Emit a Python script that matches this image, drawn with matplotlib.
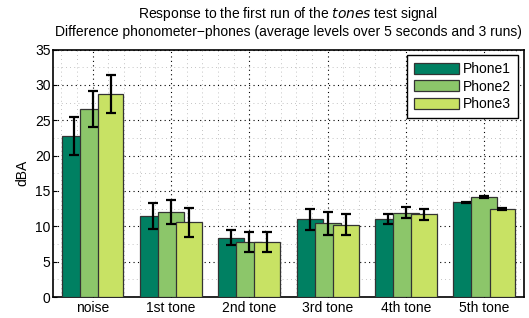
import matplotlib
matplotlib.use("Agg")
import matplotlib.pyplot as plt
import numpy as np
from matplotlib.ticker import MultipleLocator

plt.rcParams['font.family'] = ['Liberation Sans', 'DejaVu Sans']

categories = ["noise", "1st tone", "2nd tone", "3rd tone", "4th tone", "5th tone"]
series_names = ["Phone1", "Phone2", "Phone3"]
phone1 = [22.8, 11.45, 8.4, 11.0, 11.0, 13.4]
phone2 = [26.6, 12.0, 7.75, 10.4, 11.95, 14.1]
phone3 = [28.75, 10.6, 7.75, 10.25, 11.7, 12.5]
err1 = [2.7, 1.8, 1.1, 1.45, 0.7, 0.1]
err2 = [2.6, 1.7, 1.45, 1.6, 0.8, 0.12]
err3 = [2.7, 2.05, 1.45, 1.5, 0.8, 0.12]
colors = ["#008062", "#8CC66A", "#C8E264"]

FS = 10

fig = plt.figure(figsize=(5.29, 3.18), dpi=100)
ax = fig.add_axes([0.1008, 0.066, 0.889, 0.778])

x = np.arange(1, len(categories) + 1)
offset = 0.23
width = 0.33
vals = [phone1, phone2, phone3]
errs = [err1, err2, err3]
for i, (v, e, c, n) in enumerate(zip(vals, errs, colors, series_names)):
    pos = x + (i - 1) * offset
    ax.bar(pos, v, width=width, color=c, edgecolor="#333333", linewidth=0.9,
           label=n, zorder=3 + i)
for i, (v, e) in enumerate(zip(vals, errs)):
    pos = x + (i - 1) * offset
    ax.errorbar(pos, v, yerr=e, fmt="none", ecolor="black", elinewidth=1.6,
                capsize=3.5, capthick=1.6, zorder=10)

ax.set_xlim(0.5, 6.5)
ax.set_ylim(0, 35)
ax.set_xticks(x)
ax.set_xticklabels(categories, fontsize=FS)
ax.set_yticks(np.arange(0, 36, 5))
ax.tick_params(axis='y', labelsize=FS, direction='in', length=3, pad=2)
ax.tick_params(axis='x', direction='in', length=3, pad=3)
ax.xaxis.set_minor_locator(MultipleLocator(0.2))
ax.yaxis.set_minor_locator(MultipleLocator(2.5))
ax.tick_params(which='minor', length=0)
ax.grid(which='major', linestyle=(0, (1, 3)), color='black', linewidth=0.8, zorder=0)
ax.grid(which='minor', linestyle=(0, (1, 4)), color='#b0b0b0', linewidth=0.6, zorder=0)
ax.set_axisbelow(True)
for s in ax.spines.values():
    s.set_linewidth(1.2)
ax.set_ylabel("dBA", fontsize=FS, labelpad=4)

fig.text(0.544, 0.957, "Response to the first run of the $\\it{tones}$ test signal",
         ha='center', va='center', fontsize=FS)
fig.text(0.546, 0.898, "Difference phonometer\u2212phones (average levels over 5 seconds and 3 runs)",
         ha='center', va='center', fontsize=FS)

leg = ax.legend(loc='upper right', fontsize=FS, frameon=True, fancybox=False,
                edgecolor='black', framealpha=1, handlelength=3.2, handleheight=0.8,
                borderpad=0.5, labelspacing=0.25, handletextpad=0.3,
                borderaxespad=0.4)
leg.get_frame().set_linewidth(1.0)

fig.savefig("out.png", dpi=100)
